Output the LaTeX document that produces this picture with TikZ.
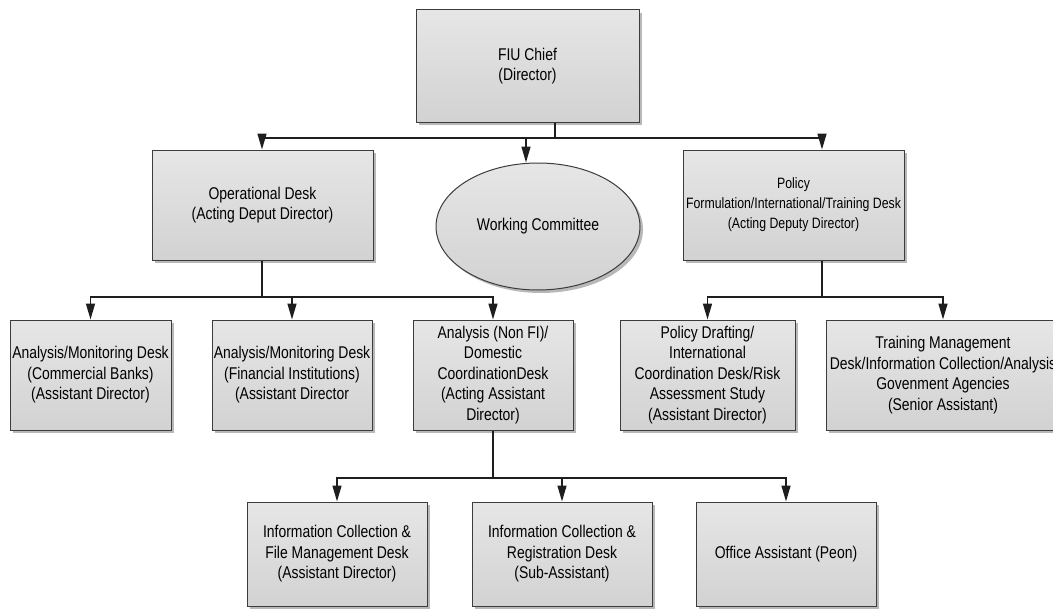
\documentclass[tikz,border=0pt]{standalone}
\usepackage{fontspec}
\setmainfont{Liberation Sans}[FakeStretch=0.82]
\usetikzlibrary{arrows.meta,shapes.geometric,shadows}
\definecolor{boxtop}{RGB}{230,230,230}
\definecolor{boxbot}{RGB}{210,210,210}
\definecolor{edge}{RGB}{60,60,60}
\definecolor{conn}{RGB}{30,30,30}
\tikzset{
  orgbox/.style={draw=edge, line width=1pt, top color=boxtop, bottom color=boxbot,
    general shadow={fill=black!28, shadow xshift=3pt, shadow yshift=-3pt},
    inner sep=0pt, align=center, font=\fontsize{17pt}{20.5pt}\selectfont, text=black},
  wcell/.style={orgbox, ellipse},
  bus/.style={draw=conn, line width=1.5pt},
  arr/.style={bus, -{Triangle[length=16pt,width=9pt]}}
}
\begin{document}
\begin{tikzpicture}[x=1pt,y=-1pt]
\useasboundingbox (0,0) rectangle (1053,610);
% level 0
\node[orgbox, minimum width=223pt, minimum height=112pt] (FIU) at (527.5,66) {FIU Chief\\(Director)};
% level 1
\node[orgbox, minimum width=221pt, minimum height=110pt] (Op) at (262.5,205) {Operational Desk\\(Acting Deput Director)};
\node[wcell, minimum width=204pt, minimum height=127pt] (WC) at (538,226.5) {\makebox[0pt]{Working Committee}};
\node[orgbox, minimum width=221pt, minimum height=110pt, font=\fontsize{15pt}{20pt}\selectfont] (Pol) at (793.5,205) {Policy\\Formulation/International/Training Desk\\(Acting Deputy Director)};
% level 2
\node[orgbox, minimum width=161pt, minimum height=110pt] (A1) at (90.5,375) {Analysis/Monitoring Desk\\(Commercial Banks)\\(Assistant Director)};
\node[orgbox, minimum width=160pt, minimum height=110pt] (A2) at (292,375) {Analysis/Monitoring Desk\\(Financial Institutions)\\(Assistant Director};
\node[orgbox, minimum width=160pt, minimum height=110pt] (A3) at (493,375) {Analysis (Non FI)/\\Domestic\\CoordinationDesk\\(Acting Assistant\\Director)};
\node[orgbox, minimum width=175pt, minimum height=110pt] (A4) at (707.5,375) {Policy Drafting/\\International\\Coordination Desk/Risk\\Assessment Study\\(Assistant Director)};
\node[orgbox, minimum width=234pt, minimum height=110pt] (A5) at (943,375) {Training Management\\Desk/Information Collection/Analysis\\Govenment Agencies\\(Senior Assistant)};
% level 3
\node[orgbox, minimum width=180pt, minimum height=104pt] (C1) at (337,554) {Information Collection \&\\File Management Desk\\(Assistant Director)};
\node[orgbox, minimum width=180pt, minimum height=104pt] (C2) at (562,554) {Information Collection \&\\Registration Desk\\(Sub-Assistant)};
\node[orgbox, minimum width=180pt, minimum height=104pt] (C3) at (786,554) {Office Assistant (Peon)};
% bus points
\coordinate (b0) at (555,138);
\coordinate (w0) at (526,138);
\coordinate (p0) at (822,138);
\coordinate (b1) at (262,297);
\coordinate (b2) at (822,297);
\coordinate (b3) at (493,478);
% connectors
\draw[bus] (FIU.south -| b0) -- (b0);
\draw[arr] (b0) -| (b1 |- Op.north);
\draw[arr] (b0) -| (p0 |- Pol.north);
\draw[arr] (w0) -- (w0 |- WC.north);
\draw[bus] (b1 |- Op.south) -- (b1);
\draw[arr] (b1) -| (A1.north);
\draw[arr] (b1) -| (A2.north);
\draw[arr] (b1) -| (A3.north);
\draw[bus] (b2 |- Pol.south) -- (b2);
\draw[arr] (b2) -| (A4.north);
\draw[arr] (b2) -| (A5.north);
\draw[bus] (A3.south) -- (b3);
\draw[arr] (b3) -| (C1.north);
\draw[arr] (b3) -| (C2.north);
\draw[arr] (b3) -| (C3.north);
\end{tikzpicture}
\end{document}
